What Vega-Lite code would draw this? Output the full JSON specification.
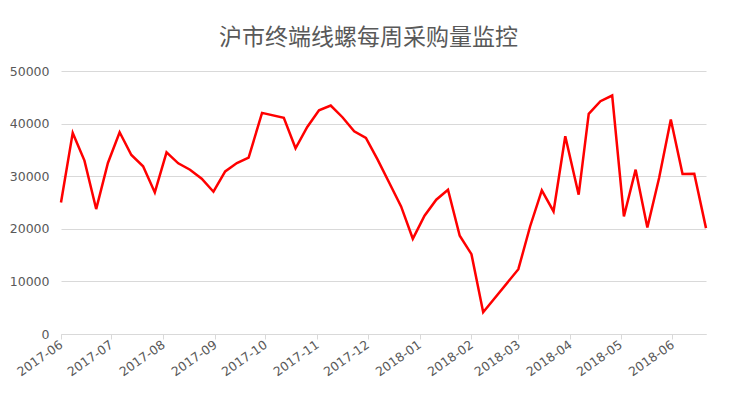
{
  "$schema": "https://vega.github.io/schema/vega-lite/v6.json",
  "autosize": {"type": "none"},
  "padding": {"left": 61, "top": 71, "right": 30, "bottom": 65},
  "width": 645,
  "height": 263,
  "background": "white",
  "title": {
    "text": "沪市终端线螺每周采购量监控",
    "font": "Noto Sans CJK SC",
    "fontSize": 23,
    "fontWeight": "normal",
    "color": "#595959",
    "anchor": "middle",
    "dx": -15,
    "offset": 15
  },
  "data": {
    "values": [
      {"date": "2017-06-01", "v": 25000},
      {"date": "2017-06-08", "v": 38230},
      {"date": "2017-06-15", "v": 32960},
      {"date": "2017-06-22", "v": 23750},
      {"date": "2017-06-29", "v": 32510},
      {"date": "2017-07-06", "v": 38350},
      {"date": "2017-07-13", "v": 34040},
      {"date": "2017-07-20", "v": 31880},
      {"date": "2017-07-27", "v": 26920},
      {"date": "2017-08-03", "v": 34540},
      {"date": "2017-08-10", "v": 32450},
      {"date": "2017-08-17", "v": 31240},
      {"date": "2017-08-24", "v": 29530},
      {"date": "2017-08-31", "v": 27050},
      {"date": "2017-09-07", "v": 30920},
      {"date": "2017-09-14", "v": 32510},
      {"date": "2017-09-21", "v": 33530},
      {"date": "2017-09-29", "v": 42040},
      {"date": "2017-10-12", "v": 41090},
      {"date": "2017-10-19", "v": 35300},
      {"date": "2017-10-26", "v": 39370},
      {"date": "2017-11-02", "v": 42540},
      {"date": "2017-11-09", "v": 43430},
      {"date": "2017-11-16", "v": 41210},
      {"date": "2017-11-23", "v": 38540},
      {"date": "2017-11-30", "v": 37280},
      {"date": "2017-12-07", "v": 33150},
      {"date": "2017-12-14", "v": 28700},
      {"date": "2017-12-21", "v": 24250},
      {"date": "2017-12-28", "v": 18100},
      {"date": "2018-01-04", "v": 22480},
      {"date": "2018-01-11", "v": 25530},
      {"date": "2018-01-18", "v": 27430},
      {"date": "2018-01-25", "v": 18670},
      {"date": "2018-02-01", "v": 15180},
      {"date": "2018-02-08", "v": 4130},
      {"date": "2018-03-01", "v": 12320},
      {"date": "2018-03-08", "v": 20440},
      {"date": "2018-03-15", "v": 27300},
      {"date": "2018-03-22", "v": 23300},
      {"date": "2018-03-29", "v": 37590},
      {"date": "2018-04-06", "v": 26480},
      {"date": "2018-04-12", "v": 41850},
      {"date": "2018-04-19", "v": 44250},
      {"date": "2018-04-26", "v": 45340},
      {"date": "2018-05-03", "v": 22350},
      {"date": "2018-05-10", "v": 31240},
      {"date": "2018-05-17", "v": 20250},
      {"date": "2018-05-24", "v": 29660},
      {"date": "2018-05-31", "v": 40770},
      {"date": "2018-06-07", "v": 30420},
      {"date": "2018-06-14", "v": 30480},
      {"date": "2018-06-21", "v": 20130}
    ]
  },
  "mark": {"type": "line", "color": "#ff0000", "strokeWidth": 2.5, "strokeJoin": "miter"},
  "encoding": {
    "x": {
      "field": "date",
      "type": "temporal",
      "scale": {
        "type": "utc",
        "domain": [
          {"year": 2017, "month": 6, "date": 1, "utc": true},
          {"year": 2018, "month": 6, "date": 21, "utc": true}
        ]
      },
      "axis": {
        "title": null,
        "format": "%Y-%m",
        "tickCount": {"interval": "month", "step": 1},
        "labelAngle": -35,
        "labelAlign": "right",
        "labelBaseline": "middle",
        "labelPadding": 4,
        "labelFont": "DejaVu Sans",
        "labelFontSize": 12.5,
        "labelColor": "#595959",
        "labelOverlap": false,
        "labelFlush": false,
        "grid": false,
        "domainColor": "#d9d9d9",
        "domainWidth": 1,
        "tickColor": "#d9d9d9",
        "tickSize": 5
      }
    },
    "y": {
      "field": "v",
      "type": "quantitative",
      "scale": {"domain": [0, 50000], "nice": false},
      "axis": {
        "title": null,
        "values": [0, 10000, 20000, 30000, 40000, 50000],
        "format": "d",
        "domain": false,
        "ticks": false,
        "labelPadding": 12,
        "labelFont": "DejaVu Sans",
        "labelFontSize": 12.5,
        "labelColor": "#595959",
        "gridColor": "#d9d9d9",
        "gridWidth": 1
      }
    }
  },
  "config": {"view": {"stroke": null}}
}
